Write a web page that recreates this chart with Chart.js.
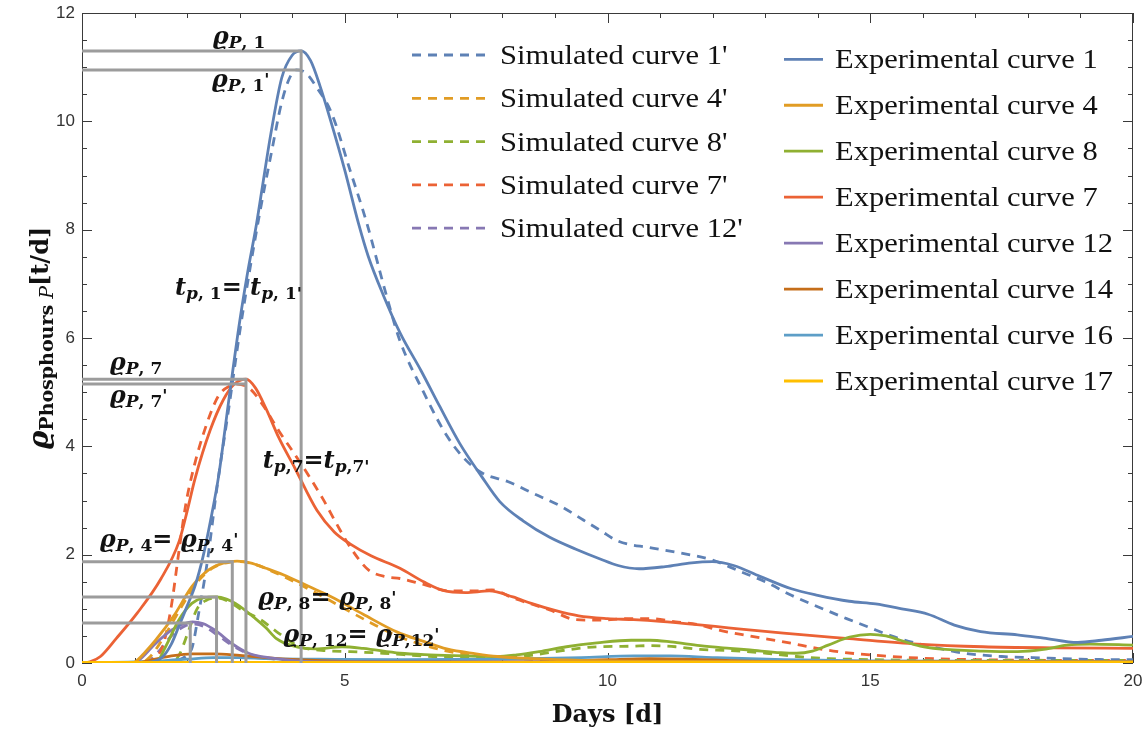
<!DOCTYPE html>
<html><head><meta charset="utf-8">
<script src="https://cdn.jsdelivr.net/npm/chart.js@4.4.1/dist/chart.umd.min.js"></script>
<style>html,body{margin:0;padding:0;background:#fff;}#wrap{width:1148px;height:737px;}</style>
</head><body><div id="wrap"><canvas id="c" width="1148" height="737"></canvas></div>
<script>
// ---------- DATA (day, value) ----------
const exp1 = [[0,0],[1.0,0],[1.3,0.02],[1.52,0.1],[1.7,0.35],[1.84,0.67],[2.0,1.05],[2.16,1.45],[2.3,1.95],[2.45,2.65],[2.6,3.45],[2.8,4.9],[3.0,6.3],[3.15,7.2],[3.32,8.1],[3.45,8.9],[3.59,9.75],[3.8,10.8],[4.0,11.22],[4.17,11.3],[4.35,11.12],[4.53,10.65],[4.72,10.05],[5.0,9.1],[5.26,8.12],[5.45,7.5],[5.73,6.8],[6.05,6.1],[6.45,5.4],[6.8,4.75],[7.19,4.05],[7.6,3.45],[7.95,2.98],[8.4,2.62],[8.9,2.32],[9.4,2.1],[9.86,1.92],[10.2,1.8],[10.6,1.74],[11.1,1.78],[11.6,1.85],[12.0,1.87],[12.4,1.8],[12.9,1.6],[13.5,1.37],[14.0,1.25],[14.6,1.14],[15.1,1.09],[15.6,1.0],[16.1,0.9],[16.6,0.7],[17.1,0.58],[17.8,0.52],[18.3,0.46],[18.95,0.38],[19.4,0.42],[20,0.49]];
const sim1 = [[0,0],[1.5,0],[1.8,0.04],[2.0,0.15],[2.1,0.3],[2.22,0.92],[2.38,1.84],[2.57,3.25],[2.8,4.75],[3.0,6.1],[3.2,7.3],[3.4,8.4],[3.6,9.4],[3.8,10.35],[3.95,10.8],[4.08,10.95],[4.25,10.9],[4.45,10.65],[4.75,10.15],[5.1,9.1],[5.42,8.12],[5.8,6.76],[6.05,5.95],[6.5,5.0],[6.94,4.2],[7.3,3.75],[7.63,3.5],[8.1,3.35],[8.59,3.13],[9.1,2.9],[9.54,2.64],[9.86,2.45],[10.2,2.25],[10.8,2.13],[11.4,2.03],[12.0,1.9],[12.5,1.7],[13.0,1.5],[13.5,1.25],[14.0,1.04],[14.55,0.82],[14.95,0.67],[15.4,0.5],[15.9,0.36],[16.4,0.25],[16.8,0.18],[17.5,0.12],[18.1,0.1],[19,0.07],[20,0.06]];
const exp7 = [[0,0],[0.15,0.02],[0.35,0.12],[0.65,0.45],[1.05,0.92],[1.5,1.55],[1.85,2.25],[2.0,2.8],[2.15,3.4],[2.44,4.3],[2.69,4.86],[2.9,5.15],[3.12,5.24],[3.3,5.08],[3.5,4.7],[3.75,4.15],[4.05,3.6],[4.47,2.82],[4.8,2.42],[5.1,2.2],[5.5,1.98],[6.05,1.75],[6.5,1.5],[6.87,1.34],[7.3,1.3],[7.75,1.33],[8.2,1.22],[8.55,1.1],[9.0,0.97],[9.45,0.87],[10.0,0.82],[10.5,0.8],[11.0,0.77],[11.7,0.71],[12.3,0.65],[13.35,0.55],[14.6,0.45],[15.9,0.35],[17.15,0.3],[18.5,0.28],[20,0.27]];
const sim7 = [[0,0],[1.0,0],[1.2,0.02],[1.4,0.1],[1.55,0.35],[1.7,1.05],[1.84,2.03],[1.97,2.9],[2.1,3.5],[2.3,4.2],[2.59,4.92],[2.82,5.12],[2.95,5.15],[3.2,5.06],[3.45,4.75],[3.75,4.28],[4.05,3.85],[4.3,3.48],[4.59,3.02],[4.85,2.56],[5.13,2.1],[5.45,1.72],[5.8,1.59],[6.05,1.56],[6.5,1.45],[7.0,1.33],[7.5,1.33],[7.8,1.35],[8.2,1.2],[8.9,0.98],[9.4,0.8],[9.86,0.79],[10.4,0.82],[10.81,0.82],[11.3,0.76],[11.76,0.7],[12.1,0.61],[12.7,0.5],[13.35,0.39],[14.3,0.22],[15.25,0.13],[16.2,0.08],[17.15,0.06],[18.5,0.05],[20,0.05]];
const exp4 = [[0,0],[0.9,0],[1.01,0.02],[1.2,0.2],[1.4,0.42],[1.78,0.92],[2.09,1.41],[2.41,1.72],[2.7,1.85],[2.95,1.88],[3.2,1.85],[3.5,1.75],[3.83,1.63],[4.3,1.42],[4.75,1.22],[5.35,0.9],[6.0,0.57],[6.5,0.4],[6.94,0.26],[7.5,0.17],[7.9,0.12],[8.6,0.08],[9.5,0.05],[11,0.03],[20,0.02]];
const sim4 = [[0,0],[1.1,0],[1.3,0.12],[1.6,0.55],[1.9,1.05],[2.2,1.5],[2.5,1.76],[2.8,1.86],[3.0,1.87],[3.3,1.82],[3.6,1.7],[4.0,1.52],[4.5,1.27],[5.0,1.0],[5.5,0.74],[6.0,0.5],[6.5,0.33],[7.0,0.21],[7.6,0.13],[8.3,0.08],[9.5,0.05],[20,0.03]];
const exp8 = [[0,0],[1.4,0],[1.59,0.3],[1.84,0.79],[2.09,1.1],[2.3,1.2],[2.56,1.22],[2.75,1.18],[2.92,1.1],[3.3,0.82],[3.5,0.65],[3.7,0.45],[4.0,0.32],[4.44,0.26],[4.95,0.3],[5.35,0.27],[6.05,0.18],[6.62,0.15],[7.32,0.13],[7.9,0.12],[8.27,0.15],[8.7,0.21],[9.22,0.3],[9.8,0.37],[10.45,0.42],[10.81,0.42],[11.2,0.39],[11.76,0.32],[12.33,0.27],[12.71,0.24],[13.3,0.19],[13.6,0.18],[13.9,0.22],[14.2,0.33],[14.61,0.48],[15.0,0.53],[15.3,0.5],[15.57,0.42],[15.95,0.31],[16.3,0.26],[17.15,0.22],[17.8,0.21],[18.3,0.25],[18.74,0.33],[19.18,0.35],[20,0.33]];
const sim8 = [[0,0],[1.7,0],[1.85,0.15],[2.03,0.6],[2.19,1.0],[2.35,1.15],[2.6,1.2],[2.85,1.1],[3.04,0.98],[3.4,0.8],[3.7,0.58],[4.15,0.3],[4.6,0.23],[5.1,0.21],[5.73,0.18],[6.68,0.12],[7.95,0.09],[8.6,0.15],[9.22,0.24],[9.8,0.3],[10.45,0.31],[10.81,0.32],[11.3,0.3],[11.76,0.25],[12.33,0.23],[13.03,0.18],[13.6,0.12],[14.23,0.08],[14.61,0.07],[16,0.05],[20,0.05]];
const exp12 = [[0,0],[0.95,0],[1.08,0.05],[1.4,0.36],[1.71,0.61],[1.95,0.73],[2.1,0.76],[2.3,0.73],[2.54,0.6],[2.85,0.36],[3.17,0.18],[3.62,0.09],[4.1,0.04],[5,0.02],[20,0.01]];
const sim12 = [[0,0],[1.2,0],[1.4,0.15],[1.7,0.5],[1.95,0.68],[2.15,0.72],[2.35,0.66],[2.6,0.5],[2.9,0.3],[3.2,0.16],[3.6,0.08],[4.2,0.03],[6,0],[20,0]];
const exp14 = [[0,0],[1.0,0],[1.3,0.05],[1.7,0.13],[2.1,0.17],[2.5,0.17],[3.0,0.14],[3.5,0.1],[4.1,0.06],[5,0.03],[7,0.02],[9,0.03],[10,0.06],[10.8,0.08],[11.5,0.07],[12.5,0.04],[14,0.02],[20,0.02]];
const exp16 = [[0,0],[1.0,0.02],[1.5,0.04],[2.0,0.07],[2.5,0.1],[3.0,0.1],[3.5,0.08],[4.5,0.07],[6,0.06],[8,0.07],[9.5,0.1],[10.5,0.13],[11.2,0.13],[12,0.1],[13.35,0.06],[15,0.04],[20,0.03]];
const exp17 = [[0,0.01],[5,0.01],[10,0.01],[15,0.01],[20,0.01]];

// peak reference lines (day, value)
const refP1  = [[0,11.3],[4.17,11.3],[4.17,0]];
const refP1s = [[0,10.95],[4.17,10.95]];
const refP7  = [[0,5.24],[3.12,5.24],[3.12,0]];
const refP7s = [[0,5.15],[3.12,5.15]];
const refP4  = [[0,1.87],[2.86,1.87],[2.86,0]];
const refP8  = [[0,1.22],[2.56,1.22],[2.56,0]];
const refP12 = [[0,0.74],[2.06,0.74],[2.06,0]];

const xTickLabels = ['0','5','10','15','20'];
const yTickLabels = ['0','2','4','6','8','10','12'];

// ---------- STYLE ----------
const C = {blue:'#5E81B5',orange:'#E19C24',green:'#8FB032',red:'#EB6235',purple:'#8778B3',brown:'#C56E1A',lblue:'#5D9EC7',yellow:'#FFBF00',grey:'#9C9C9C'};
const DASH = [9,7];
const LW = 2.8;
const SERIF = "'DejaVu Serif','Liberation Serif',serif";
const TIMES = "'Liberation Serif','DejaVu Serif',serif";

const pts = a => a.map(([x,y]) => ({x, y}));
function curve(label, arr, color, dashed, col, order){
  return {label, data: pts(arr), borderColor: color, backgroundColor: color, borderWidth: LW,
    borderDash: dashed ? DASH : [], pointRadius: 0, fill: false, cubicInterpolationMode: 'monotone',
    legendCol: col, order: order};
}
function ref(arr){
  return {label: '', data: pts(arr), borderColor: C.grey, borderWidth: 3, pointRadius: 0, fill: false,
    tension: 0, order: -1, legendCol: null};
}

const datasets = [
  curve("Simulated curve 1'", sim1, C.blue, true, 0, 2),
  curve("Simulated curve 4'", sim4, C.orange, true, 0, 2),
  curve("Simulated curve 8'", sim8, C.green, true, 0, 2),
  curve("Simulated curve 7'", sim7, C.red, true, 0, 2),
  curve("Simulated curve 12'", sim12, C.purple, true, 0, 2),
  curve("Experimental curve 1", exp1, C.blue, false, 1, 1),
  curve("Experimental curve 4", exp4, C.orange, false, 1, 1),
  curve("Experimental curve 8", exp8, C.green, false, 1, 1),
  curve("Experimental curve 7", exp7, C.red, false, 1, 1),
  curve("Experimental curve 12", exp12, C.purple, false, 1, 1),
  curve("Experimental curve 14", exp14, C.brown, false, 1, 1),
  curve("Experimental curve 16", exp16, C.lblue, false, 1, 1),
  curve("Experimental curve 17", exp17, C.yellow, false, 1, 0),
  ref(refP1), ref(refP1s), ref(refP7), ref(refP7s), ref(refP4), ref(refP8), ref(refP12)
];

// ---------- annotation labels: runs of text, anchored at (day, value) baseline-left ----------
const BIG = `bold italic 24px ${SERIF}`;
const SUBI = `bold italic 17px ${SERIF}`;
const SUBU = `bold 17px ${SERIF}`;
const EQ = `bold 24px ${SERIF}`;
const PR = `bold 17px ${SERIF}`;
function rho(n, prime, sep){ const r=[{t:'ϱ',f:BIG},{t:'P',f:SUBI,dy:4},{t:(sep===undefined?', ':sep)+n,f:SUBU,dy:4}]; if(prime) r.push({t:"'",f:PR,dy:-2}); return r; }
function tee(n, prime, sp){ return [{t:'t',f:BIG},{t:'p',f:SUBI,dy:4},{t:(sp?', ':',')+n+(prime?"'":''),f:SUBU,dy:4}]; }
const labels = [
  {x:2.49, y:11.43, runs: rho('1',false)},
  {x:2.47, y:10.63, runs: rho('1',true)},
  {x:1.77, y:6.8,  runs: [...tee('1',false,true), {t:'= ',f:EQ}, ...tee('1',true,true)]},
  {x:0.53, y:5.41, runs: rho('7',false)},
  {x:0.53, y:4.8,  runs: rho('7',true)},
  {x:3.44, y:3.6,  runs: [...tee('7',false,false), {t:'=',f:EQ}, ...tee('7',true,false)]},
  {x:0.34, y:2.14, runs: [...rho('4',false), {t:'= ',f:EQ}, ...rho('4',true)]},
  {x:3.35, y:1.07, runs: [...rho('8',false), {t:'= ',f:EQ}, ...rho('8',true)]},
  {x:3.83, y:0.39, runs: [...rho('12',false), {t:'= ',f:EQ}, ...rho('12',true,',')]}
];

function drawRuns(ctx, runs, x, y){
  let cx = x;
  for (const r of runs){ ctx.font = r.f; ctx.fillText(r.t, cx, y + (r.dy||0)); cx += ctx.measureText(r.t).width; }
  return cx - x;
}
function runsWidth(ctx, runs){ let w=0; for(const r of runs){ ctx.font=r.f; w+=ctx.measureText(r.t).width; } return w; }

const decor = {
  id: 'decor',
  beforeDatasetsDraw(chart){
    const {ctx, chartArea: a, scales:{x, y}} = chart;
    ctx.save();
    ctx.strokeStyle = '#3a3a3a'; ctx.lineWidth = 1;
    ctx.strokeRect(a.left+0.5, a.top+0.5, a.right-a.left-1, a.bottom-a.top-1);
    ctx.beginPath();
    for (let d=0; d<=20; d++){
      const px = Math.round(x.getPixelForValue(d))+0.5, L = d%5===0 ? 10 : 5;
      ctx.moveTo(px, a.bottom); ctx.lineTo(px, a.bottom-L);
      ctx.moveTo(px, a.top); ctx.lineTo(px, a.top+L);
    }
    for (let k=0; k<=24; k++){
      const v = k*0.5, py = Math.round(y.getPixelForValue(v))+0.5, L = k%4===0 ? 10 : 5;
      ctx.moveTo(a.left, py); ctx.lineTo(a.left+L, py);
      ctx.moveTo(a.right, py); ctx.lineTo(a.right-L, py);
    }
    ctx.stroke();
    ctx.restore();
  },
  afterDatasetsDraw(chart){
    const {ctx, chartArea: a, scales:{x, y}} = chart;
    ctx.save();
    ctx.fillStyle = '#111';
    ctx.textBaseline = 'alphabetic'; ctx.textAlign = 'left';
    for (const l of labels) drawRuns(ctx, l.runs, x.getPixelForValue(l.x), y.getPixelForValue(l.y));

    // legend
    const ds = chart.data.datasets;
    const cols = [
      {x0: 412, x1: 485, tx: 500, y0: 55, dy: 43.3},
      {x0: 784, x1: 823, tx: 835, y0: 59.3, dy: 45.96}
    ];
    const idx = [0,0];
    for (const d of ds){
      if (d.legendCol === null || d.legendCol === undefined) continue;
      const c = cols[d.legendCol], i = idx[d.legendCol]++;
      const ly = c.y0 + i*c.dy;
      ctx.beginPath(); ctx.strokeStyle = d.borderColor; ctx.lineWidth = LW;
      ctx.setLineDash(d.borderDash || []);
      ctx.moveTo(c.x0, ly); ctx.lineTo(c.x1, ly); ctx.stroke(); ctx.setLineDash([]);
      ctx.save(); ctx.translate(c.tx, ly + 9); ctx.scale(1.09, 1);
      ctx.fillStyle = '#111'; ctx.font = `28px ${TIMES}`; ctx.fillText(d.label, 0, 0); ctx.restore();
    }

    // x-axis title
    ctx.fillStyle = '#111';
    ctx.font = `bold 24px ${SERIF}`; ctx.textAlign = 'center';
    ctx.fillText('Days [d]', (a.left+a.right)/2, 722);

    // y-axis title (rotated)
    const yr = [{t:'ϱ',f:`bold italic 28px ${SERIF}`},{t:'Phosphours',f:`bold 19px ${SERIF}`,dy:5},{t:' ',f:`19px ${SERIF}`,dy:5},{t:'P',f:`italic 19px ${SERIF}`,dy:5},{t:'[t/d]',f:`bold 24px ${SERIF}`}];
    ctx.textAlign = 'left';
    const w = runsWidth(ctx, yr);
    ctx.translate(48, (a.top+a.bottom)/2); ctx.rotate(-Math.PI/2);
    drawRuns(ctx, yr, -w/2, 0);
    ctx.restore();
  }
};

new Chart(document.getElementById('c'), {
  type: 'line',
  data: { datasets },
  plugins: [decor],
  options: {
    responsive: false, animation: false, devicePixelRatio: 1,
    layout: { padding: {top: 13, right: 15, left: 0, bottom: 0} },
    plugins: { legend: {display: false}, tooltip: {enabled: false}, title: {display: false} },
    scales: {
      x: { type: 'linear', min: 0, max: 20,
        grid: {display: false, drawTicks: false}, border: {display: false},
        ticks: { stepSize: 5, padding: 8, color: '#333', font: {family: "'Liberation Sans', Arial, sans-serif", size: 17},
          callback: (v) => xTickLabels[xTickLabels.indexOf(String(v))] ?? '' , maxRotation: 0 },
        afterFit(s){ s.height = 74; s.paddingLeft = 0; s.paddingRight = 0; }
      },
      y: { type: 'linear', min: 0, max: 12,
        grid: {display: false, drawTicks: false}, border: {display: false},
        ticks: { stepSize: 2, padding: 7, color: '#333', font: {family: "'Liberation Sans', Arial, sans-serif", size: 17},
          callback: (v) => yTickLabels[yTickLabels.indexOf(String(v))] ?? '' },
        afterFit(s){ s.width = 82; s.paddingTop = 0; s.paddingBottom = 0; }
      }
    }
  }
});
</script></body></html>
